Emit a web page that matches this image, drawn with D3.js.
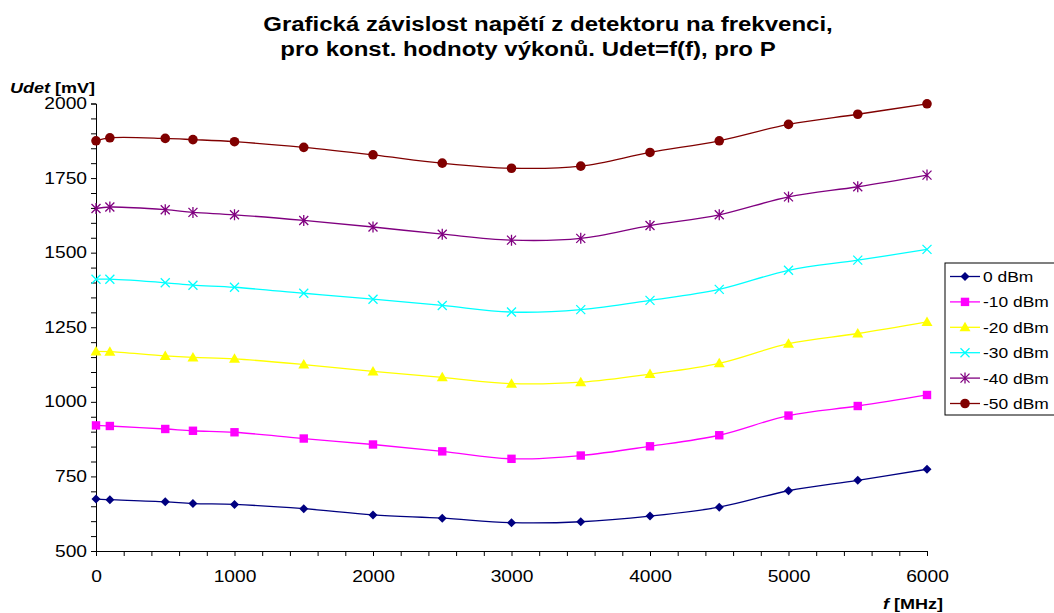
<!DOCTYPE html>
<html><head><meta charset="utf-8">
<script src="https://cdn.jsdelivr.net/npm/d3@7"></script>
<style>body{margin:0;background:#fff;} svg{display:block;font-family:"Liberation Sans",Arial,sans-serif;}</style>
</head><body>
<svg id="c" width="1054" height="613"></svg>
<script>
const freqs = [0, 100, 500, 700, 1000, 1500, 2000, 2500, 3000, 3500, 4000, 4500, 5000, 5500, 6000];
const s0  = [674, 672, 665, 659, 656, 642, 621, 610, 595, 598, 617, 647, 702, 737, 774];
const s10 = [921, 919, 909, 903, 898, 877, 857, 834, 809, 820, 851, 888, 954, 986, 1023];
const s20 = [1169, 1168, 1154, 1149, 1144, 1125, 1102, 1082, 1061, 1066, 1093, 1129, 1195, 1229, 1268];
const s30 = [1411, 1411, 1399, 1391, 1384, 1364, 1344, 1323, 1301, 1309, 1340, 1377, 1441, 1475, 1511];
const s40 = [1648, 1653, 1644, 1635, 1627, 1608, 1586, 1562, 1542, 1548, 1591, 1627, 1687, 1721, 1760];
const s50 = [1875, 1885, 1883, 1879, 1872, 1853, 1828, 1800, 1783, 1790, 1836, 1875, 1930, 1964, 1999];
const seriesNames = ["0 dBm", "-10 dBm", "-20 dBm", "-30 dBm", "-40 dBm", "-50 dBm"];
const xTicks = [0, 1000, 2000, 3000, 4000, 5000, 6000];
const yTicks = [500, 750, 1000, 1250, 1500, 1750, 2000];
const titleLines = ["Grafická závislost napětí z detektoru na frekvenci,", "pro konst. hodnoty výkonů. Udet=f(f), pro P"];

const seriesVals = [s0, s10, s20, s30, s40, s50];
const colors = ["#000080", "#FF00FF", "#FFFF00", "#00FFFF", "#800080", "#800000"];
const markers = ["diamond", "square", "triangle", "x", "star", "circle"];
const STRETCH = 1.2;

const svg = d3.select("#c");
const x = d3.scaleLinear().domain([0, 6000]).range([96, 927]);
const y = d3.scaleLinear().domain([500, 2000]).range([551, 103.5]);

function stretch(sel) {
  sel.each(function() {
    const w = this.getComputedTextLength();
    if (w > 0) d3.select(this).attr("textLength", w * STRETCH).attr("lengthAdjust", "spacingAndGlyphs");
  });
}

// title
svg.append("text").attr("x", 548).attr("y", 31).attr("text-anchor", "middle")
  .attr("font-size", 20).attr("font-weight", "bold").text(titleLines[0]).call(stretch);
svg.append("text").attr("x", 528).attr("y", 56).attr("text-anchor", "middle")
  .attr("font-size", 20).attr("font-weight", "bold").text(titleLines[1]).call(stretch);

// axes
const yAxis = d3.axisLeft(y).tickValues(d3.range(500, 2001, 50)).tickSize(5)
  .tickFormat(d => yTicks.includes(d) ? d : "");
const gy = svg.append("g").attr("transform", "translate(96,0)").call(yAxis);
gy.select(".domain").attr("stroke", "#000");
gy.selectAll(".tick line").attr("stroke", "#000");
gy.selectAll(".tick text").attr("font-size", 16).attr("fill", "#000").attr("x", -9)
  .attr("font-family", "Liberation Sans, Arial, sans-serif").call(stretch);

const xAxis = d3.axisBottom(x).tickValues(d3.range(0, 6001, 200)).tickSize(5)
  .tickFormat(d => xTicks.includes(d) ? d : "");
const gx = svg.append("g").attr("transform", "translate(0,551)").call(xAxis);
gx.select(".domain").attr("stroke", "#000");
gx.selectAll(".tick line").attr("stroke", "#000");
gx.selectAll(".tick text").attr("font-size", 16).attr("fill", "#000").attr("y", 20)
  .attr("font-family", "Liberation Sans, Arial, sans-serif").call(stretch);

// axis labels
const yl = svg.append("text").attr("x", 10).attr("y", 93).attr("font-size", 15).attr("font-weight", "bold");
yl.append("tspan").attr("font-style", "italic").text("Udet");
yl.append("tspan").text(" [mV]");
yl.call(stretch);
const xl = svg.append("text").attr("x", 883).attr("y", 609).attr("font-size", 15).attr("font-weight", "bold");
xl.append("tspan").attr("font-style", "italic").text("f");
xl.append("tspan").text(" [MHz]");
xl.call(stretch);

function drawMarker(g, type, color, cx, cy) {
  if (type === "diamond") {
    g.append("path").attr("d", `M${cx},${cy-4.5}L${cx+4.5},${cy}L${cx},${cy+4.5}L${cx-4.5},${cy}Z`).attr("fill", color);
  } else if (type === "square") {
    g.append("rect").attr("x", cx-4.2).attr("y", cy-4.2).attr("width", 8.4).attr("height", 8.4).attr("fill", color);
  } else if (type === "triangle") {
    g.append("path").attr("d", `M${cx},${cy-5.5}L${cx+5.5},${cy+4}L${cx-5.5},${cy+4}Z`).attr("fill", color);
  } else if (type === "x") {
    g.append("path").attr("d", `M${cx-4.5},${cy-4.5}L${cx+4.5},${cy+4.5}M${cx-4.5},${cy+4.5}L${cx+4.5},${cy-4.5}`).attr("stroke", color).attr("stroke-width", 1.3);
  } else if (type === "star") {
    g.append("path").attr("d", `M${cx-4.5},${cy-4.5}L${cx+4.5},${cy+4.5}M${cx-4.5},${cy+4.5}L${cx+4.5},${cy-4.5}M${cx},${cy-5.5}L${cx},${cy+5.5}`).attr("stroke", color).attr("stroke-width", 1.3);
  } else {
    g.append("circle").attr("cx", cx).attr("cy", cy).attr("r", 4.8).attr("fill", color);
  }
}

const line = d3.line().x(d => x(d[0])).y(d => y(d[1])).curve(d3.curveCatmullRom.alpha(0.5));
seriesVals.forEach((vals, i) => {
  const pts = freqs.map((f, j) => [f, vals[j]]);
  const g = svg.append("g");
  g.append("path").datum(pts).attr("d", line).attr("fill", "none").attr("stroke", colors[i]).attr("stroke-width", 1.3);
  pts.forEach(p => drawMarker(g, markers[i], colors[i], x(p[0]), y(p[1])));
});

// legend
const lg = svg.append("g");
lg.append("rect").attr("x", 945).attr("y", 263).attr("width", 115).attr("height", 152)
  .attr("fill", "#fff").attr("stroke", "#000").attr("stroke-width", 1);
seriesNames.forEach((n, i) => {
  const ly = 276.5 + i * 25.4;
  lg.append("line").attr("x1", 950).attr("x2", 980).attr("y1", ly).attr("y2", ly).attr("stroke", colors[i]).attr("stroke-width", 1.3);
  drawMarker(lg, markers[i], colors[i], 965, ly);
  lg.append("text").attr("x", 983).attr("y", ly + 5.5).attr("font-size", 14.5).text(n).call(stretch);
});
</script>
</body></html>
